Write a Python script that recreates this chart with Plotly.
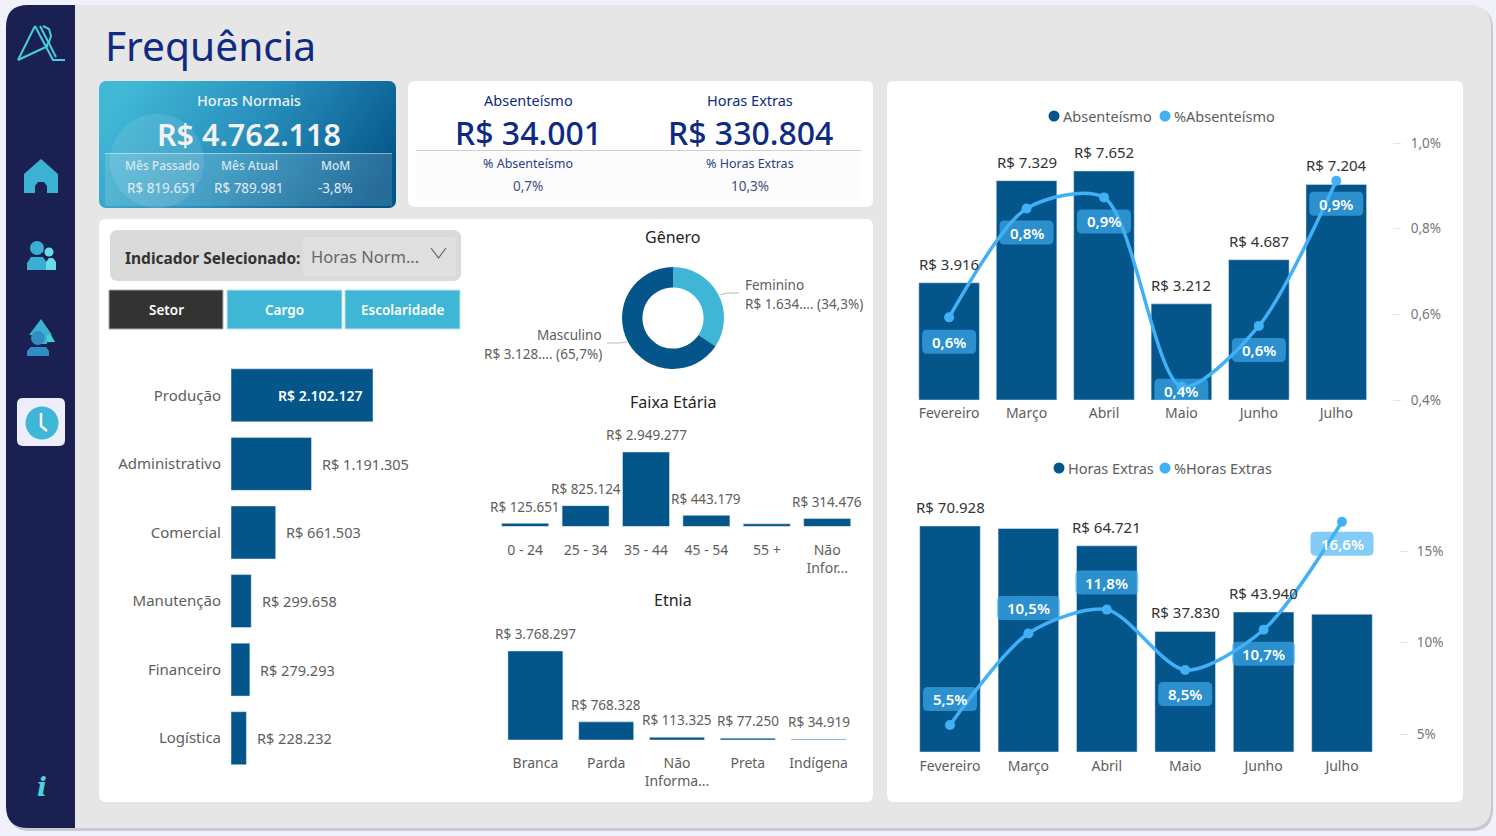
import base64

import plotly.graph_objects as go

W, H = 1496, 836
FIG_H = 845  # the photographed page comes out about 1% shorter than the figure
FONT = "Noto Sans"
NAVY = "#1A2152"
BAR = "#04558A"
CYAN = "#3FB6D5"
LINE = "#42B0F5"
GRAY = "#605E5C"
DARK = "#333333"
TITLE_BLUE = "#0E2A82"

# data
setores = ["Produção", "Administrativo", "Comercial", "Manutenção", "Financeiro", "Logística"]
setor_vals = [2102127, 1191305, 661503, 299658, 279293, 228232]

genero = ["Feminino", "Masculino"]
genero_vals = [1634118, 3128000]
genero_txt = ["R$ 1.634.... (34,3%)", "R$ 3.128.... (65,7%)"]

faixas = ["0 - 24", "25 - 34", "35 - 44", "45 - 54", "55 +", "Não<br>Infor..."]
faixa_vals = [125651, 825124, 2949277, 443179, 104411, 314476]
faixa_lbl = [True, True, True, True, False, True]

etnias = ["Branca", "Parda", "Não<br>Informa...", "Preta", "Indígena"]
etnia_vals = [3768297, 768328, 113325, 77250, 34919]

meses = ["Fevereiro", "Março", "Abril", "Maio", "Junho", "Julho"]
abs_vals = [3916, 7329, 7652, 3212, 4687, 7204]
abs_pct = [0.593, 0.847, 0.873, 0.431, 0.573, 0.912]
abs_pct_txt = ["0,6%", "0,8%", "0,9%", "0,4%", "0,6%", "0,9%"]
abs_ticks = [0.4, 0.6, 0.8, 1.0]
abs_ticktxt = ["0,4%", "0,6%", "0,8%", "1,0%"]

he_vals = [70928, 70150, 64721, 37830, 43940, 43235]
he_lbl = [True, False, True, True, True, False]
he_pct = [5.5, 10.5, 11.8, 8.5, 10.7, 16.6]
he_pct_txt = ["5,5%", "10,5%", "11,8%", "8,5%", "10,7%", "16,6%"]
he_ticks = [5, 10, 15]
he_ticktxt = ["5%", "10%", "15%"]


def brl(v):
    return "R$ " + f"{v:,}".replace(",", ".")


def X(px):
    return px / W


def Y(py):
    return 1 - py / H


def rrect(x0, y0, x1, y1, r=6, tl=None, tr=None, br=None, bl=None):
    """rounded rect in page pixels, returned as a paper path"""
    tl = r if tl is None else tl
    tr = r if tr is None else tr
    br = r if br is None else br
    bl = r if bl is None else bl
    p = lambda x, y: f"{X(x):.5f},{Y(y):.5f}"
    return (f"M{p(x0 + tl, y0)} L{p(x1 - tr, y0)} Q{p(x1, y0)} {p(x1, y0 + tr)} "
            f"L{p(x1, y1 - br)} Q{p(x1, y1)} {p(x1 - br, y1)} "
            f"L{p(x0 + bl, y1)} Q{p(x0, y1)} {p(x0, y1 - bl)} "
            f"L{p(x0, y0 + tl)} Q{p(x0, y0)} {p(x0 + tl, y0)} Z")


shapes = []
annots = []


def box(x0, y0, x1, y1, fill, r=6, line=None, layer="below", **kw):
    shapes.append(dict(type="path", xref="paper", yref="paper", path=rrect(x0, y0, x1, y1, r, **kw),
                       fillcolor=fill, line=dict(color=line or "rgba(0,0,0,0)", width=1 if line else 0),
                       layer=layer))


def poly(pts, fill=None, stroke=None, width=2, close=True, layer="above"):
    d = "M" + " L".join(f"{X(x):.5f},{Y(y):.5f}" for x, y in pts) + (" Z" if close else "")
    shapes.append(dict(type="path", xref="paper", yref="paper", path=d,
                       fillcolor=fill or "rgba(0,0,0,0)",
                       line=dict(color=stroke or "rgba(0,0,0,0)", width=width if stroke else 0),
                       layer=layer))


def circle(cx, cy, r, fill, layer="above"):
    shapes.append(dict(type="circle", xref="paper", yref="paper", x0=X(cx - r), x1=X(cx + r),
                       y0=Y(cy + r), y1=Y(cy - r), fillcolor=fill, line=dict(width=0), layer=layer))


def txt(x, y, s, size=14, color=GRAY, anchor="center", weight=400, family=FONT, style="normal"):
    annots.append(dict(xref="paper", yref="paper", x=X(x), y=Y(y), text=s, showarrow=False,
                       xanchor=anchor, yanchor="middle", borderpad=0,
                       font=dict(size=size, color=color, family=family, weight=weight, style=style)))


# page background
box(8, 7, 1493, 831, "#C9C9D2", r=22)
box(6, 5, 1491, 828, "#E6E6E6", r=22)
box(6, 5, 75, 828, NAVY, r=0, tl=22, bl=22)

# cards
box(408, 81, 873, 207, "#FFFFFF", r=7)
box(416, 151, 861, 201, "#FCFCFC", r=0)
box(99, 219, 873, 802, "#FFFFFF", r=7)
box(887, 81, 1463, 802, "#FFFFFF", r=7)

# filter and buttons
box(110, 230, 461, 281, "#DADADA", r=8)
box(304, 238, 455, 275, "#DFDFDF", r=0, line="#E6E6E6")
box(109, 290, 223, 329, "#333333", r=0, line="#A6A6A6")
box(227, 290, 342, 329, CYAN, r=0, line="#BFE4EE")
box(345, 290, 460, 329, CYAN, r=0, line="#BFE4EE")
poly([(431, 248), (438.5, 258), (446, 248)], stroke="#666666", width=1.2, close=False)
txt(213, 258, "Indicador Selecionado:", 15.5, DARK, weight=700)
txt(310, 256, "Horas Norm...", 16.5, "#666666", anchor="left")
txt(166, 310, "Setor", 13.5, "#FFFFFF", weight=600)
txt(284, 310, "Cargo", 13.5, "#FFFFFF", weight=600)
txt(402, 310, "Escolaridade", 13.5, "#FFFFFF", weight=600)

# title
txt(104, 45, "Frequência", 40.7, TITLE_BLUE, anchor="left")

# gradient card, plotly shapes have no gradient so it goes in as an svg image
card_svg = """<svg xmlns="http://www.w3.org/2000/svg" width="297" height="127" viewBox="0 0 297 127">
<defs><linearGradient id="g" x1="0" y1="0.35" x2="1" y2="0.65">
<stop offset="0" stop-color="#41B8D6"/><stop offset="0.45" stop-color="#2A92BE"/><stop offset="1" stop-color="#04558A"/>
</linearGradient><clipPath id="c"><rect width="297" height="127" rx="7"/></clipPath></defs>
<g clip-path="url(#c)"><rect width="297" height="127" fill="url(#g)"/>
<circle cx="58" cy="80" r="47" fill="#FFFFFF" fill-opacity="0.1"/>
<rect x="6" y="72" width="287" height="53" fill="#FFFFFF" fill-opacity="0.14"/>
<rect x="6" y="72" width="287" height="1" fill="#FFFFFF" fill-opacity="0.45"/></g></svg>"""
card_src = "data:image/svg+xml;base64," + base64.b64encode(card_svg.encode()).decode()
images = [dict(source=card_src, xref="paper", yref="paper", x=X(99), y=Y(81), sizex=297 / W, sizey=127 / H,
               xanchor="left", yanchor="top", sizing="stretch", layer="above")]

# kpi card texts
txt(249, 100, "Horas Normais", 14.5, "#EAF4F8", weight=500)
txt(249, 134, "R$ 4.762.118", 30.5, "#F2F2F2", weight=600)
for cx, a, b in [(162, "Mês Passado", "R$ 819.651"), (249, "Mês Atual", "R$ 789.981"), (335, "MoM", "-3,8%")]:
    txt(cx, 166, a, 12, "#DCE8EE", weight=500)
    txt(cx, 188, b, 13.5, "#E2ECF2")

poly([(416, 150.5), (861, 150.5)], stroke="#CFCFCF", width=1, close=False)
for cx, a, b, c, d in [(528, "Absenteísmo", "R$ 34.001", "% Absenteísmo", "0,7%"),
                       (750, "Horas Extras", "R$ 330.804", "% Horas Extras", "10,3%")]:
    txt(cx, 100, a, 14.5, TITLE_BLUE)
    txt(cx, 132, b, 32, TITLE_BLUE, weight=500)
    txt(cx, 163, c, 12.5, "#2A3F86")
    txt(cx, 186, d, 13.5, "#3D4E80")

# sidebar icons
LOGO = "#46CFDD"
poly([(18, 60), (35, 26)], stroke=LOGO, close=False)
poly([(18, 60), (48, 46)], stroke=LOGO, close=False)
poly([(35, 26), (53, 60), (65, 60)], stroke=LOGO, close=False)
poly([(40, 26), (56, 57)], stroke=LOGO, close=False)
poly([(43, 26), (49, 29), (51, 36), (49, 42), (46, 46)], stroke=LOGO, close=False)

poly([(41, 159), (58, 174), (58, 193), (47, 193), (47, 186), (44, 182), (38, 182), (35, 186), (35, 193),
      (24, 193), (24, 174)], fill="#3BB2D2")
circle(37, 248, 7, "#3BAFD2")
poly([(27, 270), (27, 263), (31, 257), (43, 257), (47, 263), (47, 270)], fill="#3BAFD2")
circle(49, 252, 4.5, "#66DDE8")
poly([(46, 270), (46, 262), (49, 258), (53, 258), (56, 262), (56, 270)], fill="#66DDE8")

poly([(47, 328), (55, 342), (47, 342)], fill="#46CFDD")
poly([(41, 319), (52, 335), (29, 335)], fill="#3BB2D2")
poly([(34, 335), (47, 335), (47, 344), (34, 344)], fill="#3BB2D2")
circle(38, 338, 7, "#2F8FC4")
poly([(27, 356), (27, 351), (31, 347), (46, 347), (49, 351), (49, 356)], fill="#2F8FC4")

box(17, 398, 65, 446, "#EEEEFA", r=6, layer="above")
circle(42, 423, 16.5, CYAN)
poly([(41, 413), (41, 426), (47, 431)], stroke="#FFFFFF", width=2.5, close=False)
txt(42, 787, "i", 26, "#4FD3E0", weight=700, family="DejaVu Serif", style="italic")

# section titles
txt(673, 237, "Gênero", 16, "#252423")
txt(673, 402, "Faixa Etária", 16, "#252423")
txt(673, 600, "Etnia", 16, "#252423")

fig = go.Figure()
lay = {}


def bar_axes(n, x0, x1, y0, y1, yrange, ncat, standoff, font=14):
    lay[f"xaxis{n}"] = dict(domain=[X(x0), X(x1)], anchor=f"y{n}", showgrid=False, zeroline=False, showline=False,
                            ticklabelstandoff=standoff, tickfont=dict(size=font, color=GRAY, family=FONT),
                            type="category", range=[-0.5, ncat - 0.5], fixedrange=True)
    lay[f"yaxis{n}"] = dict(domain=[Y(y1), Y(y0)], anchor=f"x{n}", range=yrange, visible=False, fixedrange=True)


# setor, horizontal bars
fig.add_trace(go.Bar(y=setores, x=setor_vals, orientation="h", marker_color=BAR, width=53 / 68.6,
                     xaxis="x1", yaxis="y1", hoverinfo="skip"))
lay["xaxis1"] = dict(domain=[X(231), X(470)], anchor="y1", range=[0, 3538000], visible=False, fixedrange=True)
lay["yaxis1"] = dict(domain=[Y(772.5), Y(361)], anchor="x1", range=[5.5, -0.5], type="category",
                     showgrid=False, zeroline=False, showline=False, ticklabelstandoff=9,
                     tickfont=dict(size=15, color=GRAY, family=FONT), fixedrange=True)
for i, (s, v) in enumerate(zip(setores, setor_vals)):
    inside = i == 0
    annots.append(dict(xref="x1", yref="y1", x=v, y=s, text=brl(v), showarrow=False,
                       xanchor="right" if inside else "left", xshift=-9 if inside else 8.5,
                       font=dict(size=14 if inside else 14.5, family=FONT, color="#FFFFFF" if inside else GRAY,
                                 weight=600 if inside else 400)))

# genero
fig.add_trace(go.Pie(labels=genero, values=genero_vals, hole=0.6, sort=False, direction="clockwise", rotation=0,
                     marker=dict(colors=[CYAN, BAR]), textinfo="none", hoverinfo="skip", showlegend=False,
                     domain=dict(x=[X(622), X(724)], y=[Y(369), Y(267)])))
poly([(720, 295), (727, 293), (739, 293)], stroke="#BDBDBD", width=1, close=False)
poly([(627, 342), (620, 343), (607, 343)], stroke="#BDBDBD", width=1, close=False)
txt(744, 285, genero[0], 13.5, GRAY, anchor="left")
txt(744, 304, genero_txt[0], 13.5, GRAY, anchor="left")
txt(603, 335, genero[1], 13.5, GRAY, anchor="right")
txt(603, 354, genero_txt[1], 13.5, GRAY, anchor="right")

# faixa etaria
fig.add_trace(go.Bar(x=faixas, y=faixa_vals, marker_color=BAR, width=47 / 60.4, xaxis="x2", yaxis="y2",
                     hoverinfo="skip"))
bar_axes(2, 495, 857.4, 420, 526.5, [0, 4216000], len(faixas), 13)
for f, v, show in zip(faixas, faixa_vals, faixa_lbl):
    if show:
        annots.append(dict(xref="x2", yref="y2", x=f, y=v, text=brl(v), showarrow=False, yshift=16.5,
                           font=dict(size=13.5, family=FONT, color=GRAY)))

# etnia
fig.add_trace(go.Bar(x=etnias, y=etnia_vals, marker_color=BAR, width=55 / 70.8, xaxis="x3", yaxis="y3",
                     hoverinfo="skip"))
bar_axes(3, 500, 854, 620, 740, [0, 5080000], len(etnias), 13)
for e, v in zip(etnias, etnia_vals):
    annots.append(dict(xref="x3", yref="y3", x=e, y=v, text=brl(v), showarrow=False, yshift=17,
                       font=dict(size=13.5, family=FONT, color=GRAY)))


def combo(nbar, nline, vals, show, pct, pct_txt, ticks, ticktxt, offs, x0, x1, y0, y1, yrange, y2range, tickx,
          cat_off, tick_off):
    spacing = (x1 - x0) / len(meses)
    fig.add_trace(go.Bar(x=meses, y=vals, marker_color=BAR, width=60.6 / spacing,
                         xaxis=f"x{nbar}", yaxis=f"y{nbar}", hoverinfo="skip"))
    bar_axes(nbar, x0, x1, y0, y1, yrange, len(meses), cat_off)
    fig.add_trace(go.Scatter(x=meses, y=pct, mode="lines+markers",
                             line=dict(color=LINE, width=3.5, shape="spline", smoothing=0.8),
                             marker=dict(color=LINE, size=10), xaxis=f"x{nbar}", yaxis=f"y{nline}",
                             hoverinfo="skip"))
    lay[f"yaxis{nline}"] = dict(domain=[Y(y1), Y(y0)], overlaying=f"y{nbar}", side="right", anchor="free",
                                position=X(tickx), range=y2range, tickvals=ticks, ticktext=ticktxt,
                                showgrid=False, zeroline=False, showline=False, ticks="outside", ticklen=8,
                                tickcolor="#E4E4E4", tickwidth=1, ticklabelstandoff=tick_off,
                                tickfont=dict(size=13.5, color="#777777", family=FONT), fixedrange=True)
    for i, m in enumerate(meses):
        if show[i]:
            annots.append(dict(xref=f"x{nbar}", yref=f"y{nbar}", x=m, y=vals[i], text=brl(vals[i]), showarrow=False,
                               yshift=19, font=dict(size=15, family=FONT, color=DARK)))
        w = 54 if len(pct_txt[i]) == 4 else 63
        cy = offs[i]
        hw, hh, r = w / 2, 12, 5
        path = (f"M{-hw + r},{cy - hh} L{hw - r},{cy - hh} Q{hw},{cy - hh} {hw},{cy - hh + r} "
                f"L{hw},{cy + hh - r} Q{hw},{cy + hh} {hw - r},{cy + hh} "
                f"L{-hw + r},{cy + hh} Q{-hw},{cy + hh} {-hw},{cy + hh - r} "
                f"L{-hw},{cy - hh + r} Q{-hw},{cy - hh} {-hw + r},{cy - hh} Z")
        shapes.append(dict(type="path", xref=f"x{nbar}", yref=f"y{nline}", xsizemode="pixel", ysizemode="pixel",
                           xanchor=i, yanchor=pct[i], path=path, fillcolor="rgba(66,176,245,0.65)",
                           line=dict(width=0), layer="above"))
        annots.append(dict(xref=f"x{nbar}", yref=f"y{nline}", x=m, y=pct[i], text=pct_txt[i], showarrow=False,
                           yshift=cy, font=dict(size=15, family=FONT, color="#FFFFFF", weight=600)))


combo(4, 6, abs_vals, [True] * 6, abs_pct, abs_pct_txt, abs_ticks, abs_ticktxt, [-24.5, -24, -24, -4, -24, -23],
      910.4, 1375, 130, 400, [0, 9021], [0.4, 1.0304], 1392, 3, 7)
combo(5, 7, he_vals, he_lbl, he_pct, he_pct_txt, he_ticks, he_ticktxt, [26, 25.5, 27, -24, -24, -22],
      910.8, 1381.2, 500, 752, [0, 79096], [4.02, 17.79], 1399, 4, 6)

# custom legends
for cx, cy, col, tx, s in [(1054, 116, BAR, 1062, "Absenteísmo"), (1165, 116, LINE, 1173, "%Absenteísmo"),
                           (1059, 468, BAR, 1067, "Horas Extras"), (1165, 468, LINE, 1173, "%Horas Extras")]:
    circle(cx, cy, 5.5, col)
    txt(tx, cy, s, 14.5, GRAY, anchor="left")

fig.update_layout(width=W, height=FIG_H, margin=dict(l=0, r=0, t=0, b=0), paper_bgcolor="#F1F1FB",
                  plot_bgcolor="rgba(0,0,0,0)", showlegend=False, barmode="overlay",
                  shapes=shapes, annotations=annots, images=images, font=dict(family=FONT), **lay)

fig.write_html("out.html", config={"displayModeBar": False},
               post_script="document.documentElement.style.cssText='margin:0;padding:0;overflow:hidden';"
                           "document.body.style.cssText='margin:0;padding:0;overflow:hidden';")
